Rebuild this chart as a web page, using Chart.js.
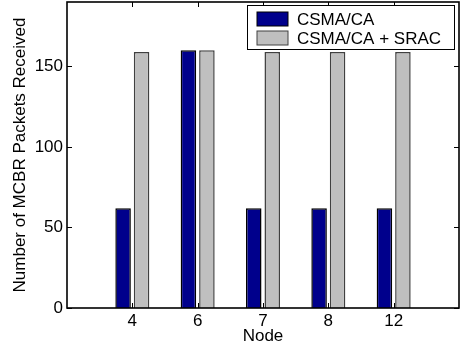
<!DOCTYPE html>
<html>
<head>
<meta charset="utf-8">
<script src="https://cdn.jsdelivr.net/npm/chart.js@4/dist/chart.umd.min.js"></script>
<style>
  html, body { margin: 0; padding: 0; background: #fff; }
  canvas { display: block; }
</style>
</head>
<body>
<canvas id="c" width="463" height="347"></canvas>
<script>
// Node identifiers along the x axis
const nodes = ['4', '6', '7', '8', '12'];
// MCBR packets received per node
const csmaCa = [62, 160, 62, 62, 62];
const csmaCaSrac = [159, 160, 159, 159, 159];
// Y axis ticks and range
const yTicks = [0, 50, 100, 150];
const yMax = 190;

const FONT = '"Liberation Sans", Arial, Helvetica, sans-serif';

// one empty slot on each side so the groups sit at 1..5 of a 0..6 range
const labels = [''].concat(nodes, ['']);
const pad = arr => [null].concat(arr, [null]);

// Box, inward tick marks and the boxed legend, in a MATLAB-like style
const frame = {
  id: 'frame',
  afterDatasetsDraw(chart) {
    const { ctx, chartArea: a, scales } = chart;
    const tl = 5;
    ctx.save();
    ctx.strokeStyle = '#000';
    ctx.lineWidth = 1;
    ctx.beginPath();
    yTicks.forEach(v => {
      const y = Math.round(scales.y.getPixelForValue(v)) + 0.5;
      ctx.moveTo(a.left, y); ctx.lineTo(a.left + tl, y);
      ctx.moveTo(a.right, y); ctx.lineTo(a.right - tl, y);
    });
    labels.forEach((lab, i) => {
      if (!lab) return;
      const x = Math.round(scales.x.getPixelForValue(i)) + 0.5;
      ctx.moveTo(x, a.bottom); ctx.lineTo(x, a.bottom - tl);
      ctx.moveTo(x, a.top); ctx.lineTo(x, a.top + tl);
    });
    ctx.stroke();
    ctx.lineWidth = 1.6;
    ctx.strokeRect(a.left, a.top, a.right - a.left, a.bottom - a.top);

    // legend
    const lx = a.right - 212, ly = a.top + 3, lw = 207, lh = 44;
    ctx.fillStyle = '#fff';
    ctx.fillRect(lx, ly, lw, lh);
    ctx.lineWidth = 1;
    ctx.strokeStyle = '#000';
    ctx.strokeRect(lx + 0.5, ly + 0.5, lw, lh);
    ctx.font = '17px ' + FONT;
    ctx.textBaseline = 'middle';
    ctx.textAlign = 'left';
    chart.data.datasets.forEach((ds, i) => {
      const cy = ly + 14 + i * 19;
      ctx.fillStyle = ds.backgroundColor;
      ctx.fillRect(lx + 10, cy - 7, 31, 14);
      ctx.strokeStyle = ds.borderColor;
      ctx.strokeRect(lx + 10, cy - 7, 31, 14);
      ctx.fillStyle = '#000';
      ctx.fillText(ds.label, lx + 50, cy + 1);
    });
    ctx.restore();
  }
};

new Chart(document.getElementById('c'), {
  type: 'bar',
  data: {
    labels: labels,
    datasets: [
      {
        label: 'CSMA/CA',
        data: pad(csmaCa),
        backgroundColor: '#00008c',
        borderColor: '#000000',
        borderWidth: 1.5
      },
      {
        label: 'CSMA/CA + SRAC',
        data: pad(csmaCaSrac),
        backgroundColor: '#bfbfbf',
        borderColor: '#404040',
        borderWidth: 1.5
      }
    ]
  },
  options: {
    responsive: false,
    devicePixelRatio: 1,
    animation: false,
    categoryPercentage: 0.566,
    barPercentage: 0.84,
    layout: { padding: { left: 0, top: 2, right: 4, bottom: 0 } },
    plugins: {
      legend: { display: false },
      tooltip: { enabled: false }
    },
    scales: {
      x: {
        type: 'category',
        offset: false,
        grid: { display: false, drawTicks: false, offset: false },
        border: { display: false },
        ticks: {
          color: '#000',
          font: { family: FONT, size: 17 },
          padding: 3,
          maxRotation: 0,
          autoSkip: false
        },
        title: {
          display: true,
          text: 'Node',
          color: '#000',
          font: { family: FONT, size: 17 },
          padding: { top: 0, bottom: 0 }
        },
        afterFit(scale) {
          scale.height = 39;
          scale.paddingLeft = 0;
          scale.paddingRight = 0;
        }
      },
      y: {
        min: 0,
        max: yMax,
        grid: { display: false, drawTicks: false },
        border: { display: false },
        afterBuildTicks(scale) { scale.ticks = yTicks.map(v => ({ value: v })); },
        ticks: {
          color: '#000',
          font: { family: FONT, size: 17 },
          padding: 4
        },
        title: {
          display: true,
          text: 'Number of MCBR Packets Received',
          color: '#000',
          font: { family: FONT, size: 17 },
          padding: { top: 10, bottom: 0 }
        },
        afterFit(scale) {
          scale.width = 67;
          scale.paddingTop = 0;
          scale.paddingBottom = 0;
        }
      }
    }
  },
  plugins: [frame]
});
</script>
</body>
</html>
